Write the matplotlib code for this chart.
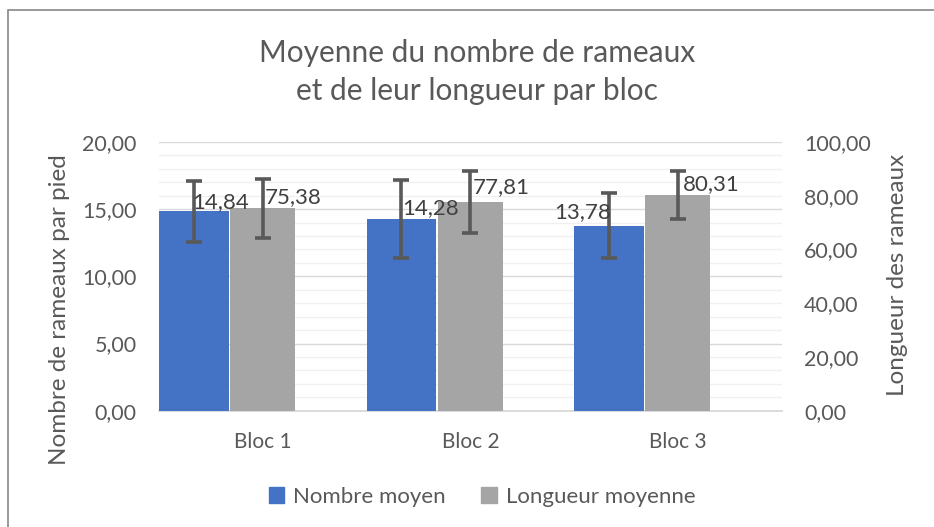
import matplotlib
matplotlib.use("Agg")
import matplotlib.pyplot as plt
import numpy as np
from matplotlib.patches import Rectangle, Patch
from matplotlib.ticker import MultipleLocator, FuncFormatter

categories = ["Bloc 1", "Bloc 2", "Bloc 3"]
nombre_moyen = [14.84, 14.28, 13.78]
nombre_err = [2.25, 2.9, 2.45]
longueur_moyenne = [75.38, 77.81, 80.31]
longueur_err = [11.0, 11.5, 9.0]
series_names = ["Nombre moyen", "Longueur moyenne"]
title_lines = ["Moyenne du nombre de rameaux", "et de leur longueur par bloc"]
ylabel_left = "Nombre de rameaux par pied"
ylabel_right = "Longueur des rameaux"

# style
FONT = ["Lato", "DejaVu Sans"]
plt.rcParams["font.family"] = FONT
TXT = "#595959"
BLUE = "#4472C4"
GRAY = "#A5A5A5"
ERR = "#595959"

def fmt(v, _=None):
    return f"{v:.2f}".replace(".", ",")

W, H = 934, 527
fig = plt.figure(figsize=(W / 100, H / 100), dpi=100)
fig.patch.set_facecolor("white")
fig.patches.append(Rectangle((8 / W, -0.1), 1.2, 1 - 10 / H + 0.1, transform=fig.transFigure,
                             fill=False, edgecolor="#888888", linewidth=1.2))

ax = fig.add_axes([159 / W, 1 - 410.7 / H, (781.7 - 159) / W, (410.7 - 142) / H])
ax2 = ax.twinx()

x = np.arange(len(categories))
ax.bar(x - 0.332, nombre_moyen, width=0.336, color=BLUE, zorder=3,
       yerr=nombre_err, error_kw=dict(ecolor=ERR, elinewidth=2.6, capsize=6, capthick=2.6, zorder=4))
ax2.bar(x, longueur_moyenne, width=0.313, color=GRAY, zorder=3,
        yerr=longueur_err, error_kw=dict(ecolor=ERR, elinewidth=2.6, capsize=6, capthick=2.6, zorder=4))

ax.set_xlim(-0.5, len(categories) - 0.5)
ax.set_ylim(0, 20)
ax2.set_ylim(0, 100)
ax.yaxis.set_major_locator(MultipleLocator(5))
ax.yaxis.set_minor_locator(MultipleLocator(1))
ax2.yaxis.set_major_locator(MultipleLocator(20))
ax.yaxis.set_major_formatter(FuncFormatter(fmt))
ax2.yaxis.set_major_formatter(FuncFormatter(fmt))

ax.grid(axis="y", which="major", color="#D9D9D9", linewidth=1.0, zorder=0)
ax.grid(axis="y", which="minor", color="#F0F0F0", linewidth=1.0, zorder=0)
ax.set_axisbelow(True)

for a in (ax, ax2):
    for s in a.spines.values():
        s.set_visible(False)
    a.tick_params(axis="both", which="both", length=0, labelsize=15.5, labelcolor=TXT)
ax.spines["bottom"].set_visible(True)
ax.spines["bottom"].set_color("#D9D9D9")
ax.spines["bottom"].set_linewidth(1.3)
ax.set_xticks(x)
ax.set_xticklabels(categories, fontsize=15)
ax.tick_params(axis="x", pad=15)
ax.tick_params(axis="y", pad=16)
ax2.tick_params(axis="y", pad=16)

# data labels (offsets in points, dpi=100 -> 1pt = 1.389px)
blue_off = [(19, 7), (21, 8), (-19, 9.5)]
gray_off = [(22, 8), (22, 10.5), (24, 8)]
for i in range(len(categories)):
    ax2.annotate(fmt(nombre_moyen[i]), xy=(x[i] - 0.332, nombre_moyen[i]), xycoords=ax.transData,
                 xytext=blue_off[i], textcoords="offset points", ha="center", va="center",
                 fontsize=16, color="#404040", zorder=10)
    ax2.annotate(fmt(longueur_moyenne[i]), xy=(x[i], longueur_moyenne[i]), xycoords=ax2.transData,
                 xytext=gray_off[i], textcoords="offset points", ha="center", va="center",
                 fontsize=16, color="#404040", zorder=10)

for k, line in enumerate(title_lines):
    fig.text(477 / W, 1 - (62 + 38 * k) / H, line, ha="center", va="baseline", fontsize=21.5, color=TXT)
fig.text(60 / W, 1 - 310 / H, ylabel_left, rotation=90, ha="center", va="center", fontsize=17.5, color=TXT)
fig.text(898 / W, 1 - 275 / H, ylabel_right, rotation=90, ha="center", va="center", fontsize=17.5, color=TXT)

handles = [Patch(color=BLUE), Patch(color=GRAY)]
fig.legend(handles, series_names, loc="center", bbox_to_anchor=(482 / W, 1 - 497 / H), ncol=2,
           frameon=False, fontsize=16, handlelength=0.7, handleheight=0.7, handletextpad=0.4,
           columnspacing=1.6, labelcolor=TXT)

fig.savefig("out.png", dpi=100)
